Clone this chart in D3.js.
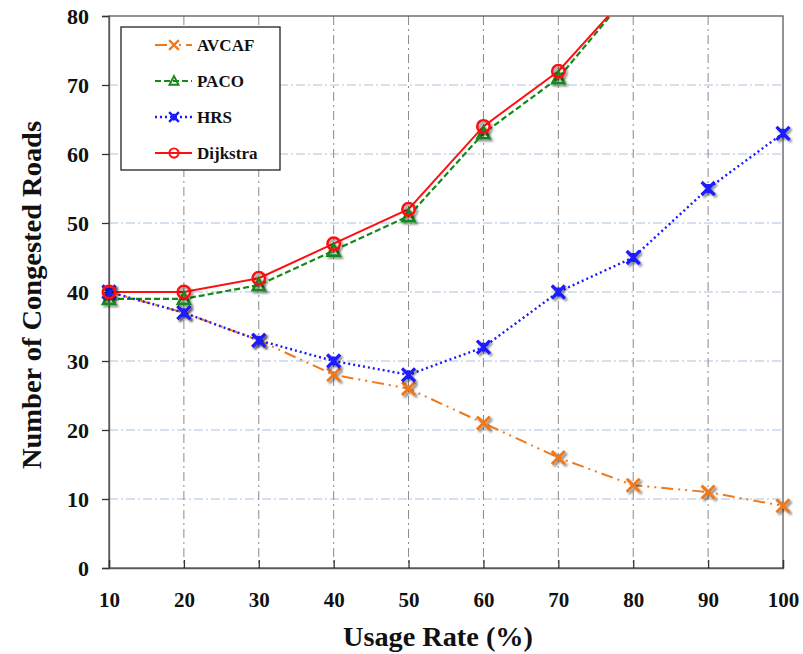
<!DOCTYPE html>
<html><head><meta charset="utf-8">
<script src="https://cdn.jsdelivr.net/npm/d3@7"></script>
<style>body{margin:0;background:#fff}svg{display:block}
.t{font-family:"Liberation Serif","Times New Roman",Times,serif;font-weight:bold;fill:#111}</style>
</head><body><svg id="c" width="803" height="654"></svg>
<script>
const usageRates = [10,20,30,40,50,60,70,80,90,100];
const avcaf    = [40,37,33,28,26,21,16,12,11,9];
const paco     = [39,39,41,46,51,63,71,84];
const hrs      = [40,37,33,30,28,32,40,45,55,63];
const dijkstra = [40,40,42,47,52,64,72,84];
const yTicks = [0,10,20,30,40,50,60,70,80];
const seriesNames = ["AVCAF","PACO","HRS","Dijkstra"];

const svg = d3.select("#c");
const L=109, R=783, T=16, B=568;
const x = d3.scaleLinear().domain([10,100]).range([L,R]);
const y = d3.scaleLinear().domain([0,80]).range([B,T]);

const defs = svg.append("defs");
defs.append("clipPath").attr("id","clip").append("rect").attr("x",L-10).attr("y",T).attr("width",R-L+20).attr("height",B-T);
const f = defs.append("filter").attr("id","sh").attr("x","-50%").attr("y","-50%").attr("width","200%").attr("height","200%");
f.append("feGaussianBlur").attr("in","SourceAlpha").attr("stdDeviation",1.3).attr("result","b");
f.append("feOffset").attr("in","b").attr("dx",1.5).attr("dy",1.5).attr("result","o");
f.append("feComponentTransfer").attr("in","o").attr("result","o2").append("feFuncA").attr("type","linear").attr("slope",0.45);
const fm = f.append("feMerge"); fm.append("feMergeNode").attr("in","o2"); fm.append("feMergeNode").attr("in","SourceGraphic");

// gridlines
svg.append("g").selectAll("line").data(yTicks.filter(d=>d>0&&d<80)).join("line")
  .attr("x1",L).attr("x2",R).attr("y1",d=>y(d)).attr("y2",d=>y(d))
  .attr("stroke","#aac2de").attr("stroke-width",1).attr("stroke-dasharray","9,3,2,3");
svg.append("g").selectAll("line").data(usageRates.slice(1,-1)).join("line")
  .attr("x1",d=>x(d)).attr("x2",d=>x(d)).attr("y1",T).attr("y2",B)
  .attr("stroke","#8a8a8a").attr("stroke-width",1).attr("stroke-dasharray","9,4,2,4");

// frame
svg.append("rect").attr("x",L).attr("y",T).attr("width",R-L).attr("height",B-T)
  .attr("fill","none").attr("stroke","#595959").attr("stroke-width",1.3);

// axes
const yAx = svg.append("g").attr("transform",`translate(${L},0)`)
  .call(d3.axisLeft(y).tickValues(yTicks).tickSize(7).tickPadding(13).tickFormat(d3.format("d")));
yAx.select(".domain").attr("stroke","#595959").attr("stroke-width",1.3);
yAx.selectAll(".tick line").attr("stroke","#333").attr("stroke-width",1.3);
yAx.selectAll("text").attr("class","t").attr("font-size",22);

const xAx = svg.append("g").attr("transform",`translate(0,${B})`)
  .call(d3.axisBottom(x).tickValues(usageRates).tickSize(-8).tickPadding(24).tickFormat(d3.format("d")));
xAx.select(".domain").attr("stroke","#595959").attr("stroke-width",1.3);
xAx.selectAll(".tick line").attr("stroke","#333").attr("stroke-width",1.3);
xAx.selectAll("text").attr("class","t").attr("font-size",21);
svg.selectAll("g").attr("font-family",null);

// axis titles
svg.append("text").attr("class","t").attr("x",438).attr("y",646).attr("text-anchor","middle")
  .attr("font-size",28).attr("textLength",190).attr("lengthAdjust","spacingAndGlyphs").text("Usage Rate (%)");
svg.append("text").attr("class","t").attr("transform","translate(41,295) rotate(-90)").attr("text-anchor","middle")
  .attr("font-size",28).attr("textLength",348).attr("lengthAdjust","spacingAndGlyphs").text("Number of Congested Roads");

// markers
function drawMarker(g, type, color){
  if(type==="x"){
    g.append("path").attr("d","M-6.5,-6.5L6.5,6.5M-6.5,6.5L6.5,-6.5").attr("stroke",color).attr("stroke-width",3).attr("fill","none");
  } else if(type==="tri"){
    g.append("path").attr("d","M0,-6.5L6,5L-6,5Z").attr("stroke",color).attr("stroke-width",2.6).attr("fill","none");
  } else if(type==="star"){
    g.append("path").attr("d","M-6.5,-6.5L6.5,6.5M-6.5,6.5L6.5,-6.5M0,-4.5L0,4.5").attr("stroke",color).attr("stroke-width",3.2).attr("fill","none");
  } else if(type==="circle"){
    g.append("circle").attr("r",6.2).attr("stroke",color).attr("stroke-width",2.6).attr("fill","none");
  }
}

const series = [
  {name:seriesNames[0], vals:avcaf, color:"#ee7a1e", dash:"12,5,2,5,2,5", width:2, marker:"x"},
  {name:seriesNames[1], vals:paco, color:"#14891a", dash:"6,3", width:2.2, marker:"tri"},
  {name:seriesNames[2], vals:hrs, color:"#1a1aff", dash:"2,3", width:2.4, marker:"star"},
  {name:seriesNames[3], vals:dijkstra, color:"#ff1010", dash:null, width:2, marker:"circle"}
];

const line = d3.line().x((d,i)=>x(usageRates[i])).y(d=>y(d));
const plot = svg.append("g").attr("clip-path","url(#clip)");
series.forEach(s=>{
  plot.append("path").datum(s.vals).attr("d",line).attr("fill","none")
    .attr("stroke",s.color).attr("stroke-width",s.width).attr("stroke-dasharray",s.dash);
});
series.forEach(s=>{
  s.vals.forEach((v,i)=>{
    if(v>80) return;
    const g = plot.append("g").attr("transform",`translate(${x(usageRates[i])},${y(v)})`).attr("filter","url(#sh)");
    drawMarker(g,s.marker,s.color);
  });
});

// legend
const lg = svg.append("g");
lg.append("rect").attr("x",121).attr("y",27).attr("width",159).attr("height",143)
  .attr("fill","#fff").attr("stroke","#222").attr("stroke-width",1.3);
series.forEach((s,i)=>{
  const yy = 45 + i*36;
  lg.append("line").attr("x1",155).attr("x2",192).attr("y1",yy).attr("y2",yy)
    .attr("stroke",s.color).attr("stroke-width",s.width).attr("stroke-dasharray",s.dash);
  const g = lg.append("g").attr("transform",`translate(174,${yy}) scale(0.75)`);
  drawMarker(g,s.marker,s.color);
  lg.append("text").attr("class","t").attr("x",197).attr("y",yy+6).attr("font-size",17).text(s.name);
});
</script></body></html>
